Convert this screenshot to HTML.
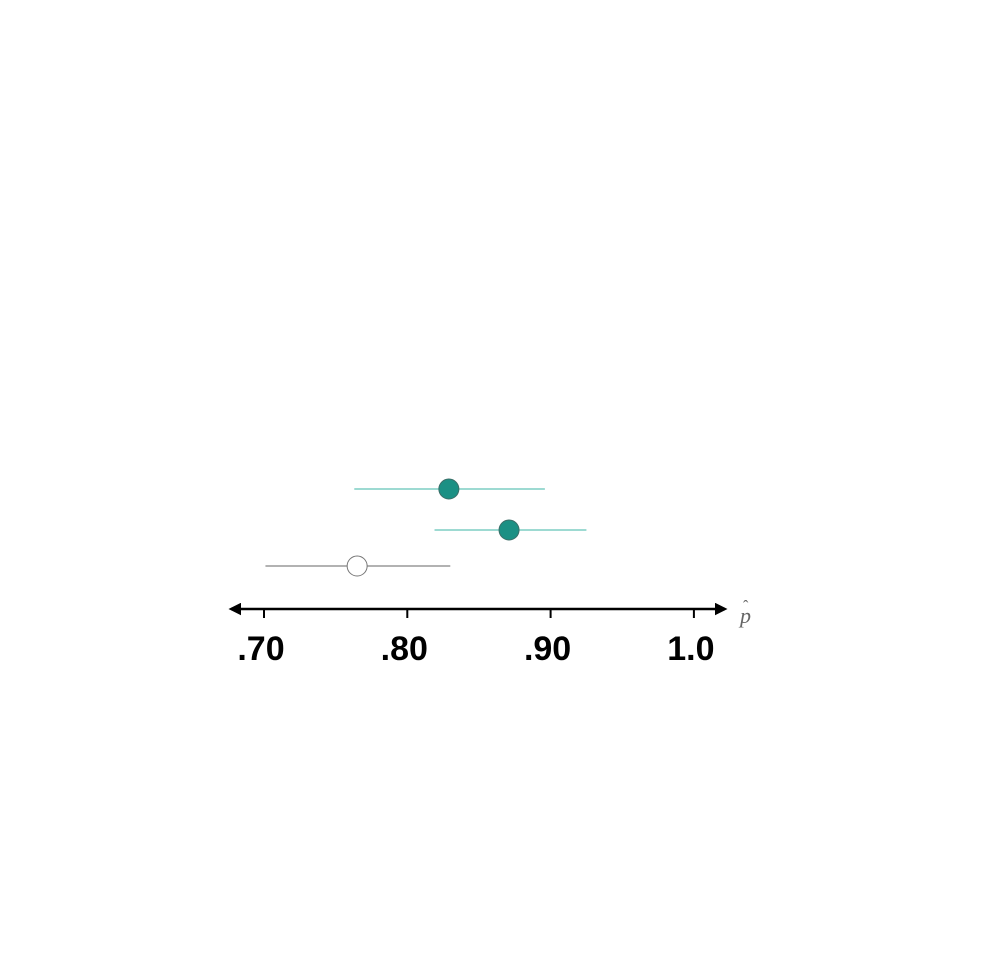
<!DOCTYPE html>
<html><head><meta charset="utf-8"><style>
body{margin:0;background:#fff;width:1000px;height:950px;overflow:hidden}
</style></head><body>
<svg id="chart" width="1000" height="950" xmlns="http://www.w3.org/2000/svg">
<defs>
<marker id="arr" viewBox="0 0 10 10" refX="8" refY="5" markerWidth="5" markerHeight="5" orient="auto-start-reverse"><path d="M0,0L10,5L0,10z" fill="#000"/></marker>
</defs>
<g id="axis">
<line x1="231" y1="609" x2="725" y2="609" stroke="#000" stroke-width="2.5" marker-start="url(#arr)" marker-end="url(#arr)"/>
</g>
<text x="740" y="623" font-family="Liberation Serif, serif" font-style="italic" font-size="22" fill="#666">p</text>
<text x="743" y="611" font-family="Liberation Serif, serif" font-size="16" fill="#666">ˆ</text>
</svg>
<script>
const tickValues=[0.70,0.80,0.90,1.0];
const tickLabels=[".70",".80",".90","1.0"];
const estimates=[0.829,0.871,0.765];
const lowers=[0.763,0.819,0.701];
const uppers=[0.896,0.925,0.830];
const filled=[true,true,false];
const rowNames=["estimate-1","estimate-2","estimate-3"];

const svg=document.getElementById('chart');
const NS='http://www.w3.org/2000/svg';
const xs=v=>264+(v-0.70)/0.10*143.3;
const ys=i=>[489,530,566][i];
function mk(tag,attrs){const e=document.createElementNS(NS,tag);for(const k in attrs)e.setAttribute(k,attrs[k]);svg.appendChild(e);return e;}
tickValues.forEach((v,i)=>{
  const t=mk('line',{x1:xs(v),x2:xs(v),y1:609,y2:618,stroke:'#000','stroke-width':2});
  
  
  const l=mk('text',{x:xs(v)-3,y:660,'text-anchor':'middle','font-family':'Liberation Sans, sans-serif','font-weight':'bold','font-size':34,fill:'#000'});
  l.textContent=tickLabels[i];
  
  
});
estimates.forEach((v,i)=>{
  const col=filled[i]?'#7dcdc4':'#999';
  const ln=mk('line',{x1:xs(lowers[i]),x2:xs(uppers[i]),y1:ys(i),y2:ys(i),stroke:col,'stroke-width':1.5});
  
  
  const c=mk('circle',{cx:xs(v),cy:ys(i),r:10,fill:filled[i]?'#1b9084':'#fff',stroke:filled[i]?'#3c6e68':'#777','stroke-width':1});
  
  
});
</script>
</body></html>
